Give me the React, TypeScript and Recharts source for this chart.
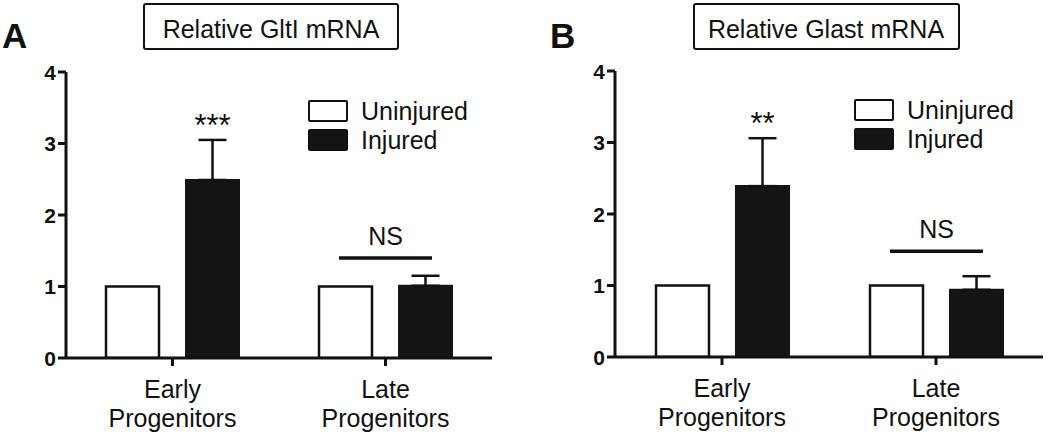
import React from 'react';
import { BarChart, Bar, XAxis, YAxis, ErrorBar, LabelList, Legend } from 'recharts';

const categories = ['Early\nProgenitors', 'Late\nProgenitors'];
const seriesNames = ['Uninjured', 'Injured'];
const yTicks = [0, 1, 2, 3, 4];

const gltUninjured = [1, 1];
const gltInjured = [2.49, 1.01];
const gltInjuredErr = [0.56, 0.14];
const gltSig = ['***', 'NS'];
const gltNsLevel = 1.4;

const glastUninjured = [1, 1];
const glastInjured = [2.39, 0.94];
const glastInjuredErr = [0.67, 0.19];
const glastSig = ['**', 'NS'];
const glastNsLevel = 1.48;

const FONT = '"Liberation Sans", Arial, sans-serif';
const INK = '#111111';

function buildData(unj: number[], inj: number[], err: number[], sig: string[]) {
  return categories.map((c, i) => ({
    name: c,
    Uninjured: unj[i],
    Injured: inj[i],
    err: [0, err[i]],
    sig: sig[i],
  }));
}

const CatTick = (props: any) => {
  const { x, y, payload } = props;
  const lines = String(payload.value).split('\n');
  return (
    <text x={x} y={y} textAnchor="middle" fontFamily={FONT} fontSize={25} fill={INK}>
      {lines.map((l, i) => (
        <tspan key={i} x={x} dy={i === 0 ? 30 : 29}>{l}</tspan>
      ))}
    </text>
  );
};

const NumTick = (props: any) => {
  const { x, y, payload } = props;
  return (
    <text x={x} y={y} dy={7.5} textAnchor="end" fontFamily={FONT} fontSize={21} fontWeight="bold" fill={INK}>
      {payload.value}
    </text>
  );
};

function makeSigContent(values: number[], errs: number[], nsLevel: number) {
  return (props: any) => {
    const { x, y, width, height, index, value } = props;
    const v = values[index];
    const ppu = height / v;
    const cx = x + width / 2;
    if (value === 'NS') {
      const baseY = y + height;
      const lineY = baseY - nsLevel * ppu;
      const x1 = x - 60;
      const x2 = x + width - 20;
      return (
        <g>
          <line x1={x1} x2={x2} y1={lineY} y2={lineY} stroke={INK} strokeWidth={3.5} />
          <text x={(x1 + x2) / 2} y={lineY - 13} textAnchor="middle" fontFamily={FONT} fontSize={25} fill={INK}>
            {value}
          </text>
        </g>
      );
    }
    const errTop = y - errs[index] * ppu;
    return (
      <text x={cx} y={errTop - 4} textAnchor="middle" fontFamily={FONT} fontSize={31} fill={INK}>
        {value}
      </text>
    );
  };
}

const LegendContent = (props: any) => {
  return (
    <div style={{ fontFamily: FONT, fontSize: 25, color: INK, lineHeight: '22px' }}>
      {seriesNames.map((n, i) => (
        <div key={n} style={{ display: 'flex', alignItems: 'center', height: 22, marginBottom: i === 0 ? 7 : 0 }}>
          <div
            style={{
              width: 36,
              height: 18,
              border: `2px solid ${INK}`,
              background: i === 0 ? '#ffffff' : '#141414',
              borderRadius: 2,
              marginRight: 13,
            }}
          />
          <span>{n}</span>
        </div>
      ))}
    </div>
  );
};

type PanelProps = {
  data: any[];
  values: number[];
  errs: number[];
  nsLevel: number;
  yAxisWidth: number;
  marginRight: number;
  marginTop: number;
  xAxisHeight: number;
  legendLeft: number;
  legendTop: number;
};

const Panel = (p: PanelProps) => (
  <BarChart
    width={525}
    height={438}
    data={p.data}
    margin={{ top: p.marginTop, right: p.marginRight, bottom: 0, left: 0 }}
    barSize={53}
    barGap={27}
  >
    <XAxis
      dataKey="name"
      tick={<CatTick />}
      tickSize={8}
      height={p.xAxisHeight}
      interval={0}
      axisLine={{ stroke: INK, strokeWidth: 3 }}
      tickLine={{ stroke: INK, strokeWidth: 3 }}
    />
    <YAxis
      domain={[0, 4]}
      ticks={yTicks}
      width={p.yAxisWidth}
      tickSize={8}
      tick={<NumTick />}
      axisLine={{ stroke: INK, strokeWidth: 3 }}
      tickLine={{ stroke: INK, strokeWidth: 3 }}
      allowDataOverflow
    />
    <Legend
      layout="vertical"
      align="center"
      verticalAlign="middle"
      content={<LegendContent />}
      wrapperStyle={{ left: p.legendLeft, top: p.legendTop, width: 180, height: 60 }}
    />
    <Bar dataKey="Uninjured" fill="#ffffff" stroke={INK} strokeWidth={2.5} isAnimationActive={false} />
    <Bar dataKey="Injured" fill="#141414" stroke="#141414" strokeWidth={2} isAnimationActive={false}>
      <ErrorBar dataKey="err" direction="y" width={14} stroke={INK} strokeWidth={2.5} />
      <LabelList dataKey="sig" content={makeSigContent(p.values, p.errs, p.nsLevel)} />
    </Bar>
  </BarChart>
);

const Overlay = () => (
  <svg width={1050} height={438} style={{ position: 'absolute', left: 0, top: 0, pointerEvents: 'none' }}>
    <text x={2} y={48} fontFamily={FONT} fontSize={35} fontWeight="bold" fill={INK}>A</text>
    <rect x={144} y={4} width={254} height={45} fill="none" stroke={INK} strokeWidth={2} rx={2} />
    <text x={271} y={38} textAnchor="middle" fontFamily={FONT} fontSize={25} fill={INK}>Relative GltI mRNA</text>
    <text x={550} y={48} fontFamily={FONT} fontSize={35} fontWeight="bold" fill={INK}>B</text>
    <rect x={694} y={4} width={265} height={45} fill="none" stroke={INK} strokeWidth={2} rx={2} />
    <text x={826} y={38} textAnchor="middle" fontFamily={FONT} fontSize={25} fill={INK}>Relative Glast mRNA</text>
  </svg>
);

export default function App() {
  const dataA = buildData(gltUninjured, gltInjured, gltInjuredErr, gltSig);
  const dataB = buildData(glastUninjured, glastInjured, glastInjuredErr, glastSig);
  return (
    <div style={{ position: 'absolute', left: 0, top: 0, width: 1050, height: 438, background: '#fff', overflow: 'hidden' }}>
      <div style={{ position: 'absolute', left: 0, top: 0 }}>
        <Panel
          data={dataA}
          values={gltInjured}
          errs={gltInjuredErr}
          nsLevel={gltNsLevel}
          yAxisWidth={66}
          marginRight={33}
          marginTop={72}
          xAxisHeight={80}
          legendLeft={308}
          legendTop={100}
        />
      </div>
      <div style={{ position: 'absolute', left: 525, top: 0 }}>
        <Panel
          data={dataB}
          values={glastInjured}
          errs={glastInjuredErr}
          nsLevel={glastNsLevel}
          yAxisWidth={90}
          marginRight={7}
          marginTop={71}
          xAxisHeight={81}
          legendLeft={329}
          legendTop={99}
        />
      </div>
      <Overlay />
    </div>
  );
}
